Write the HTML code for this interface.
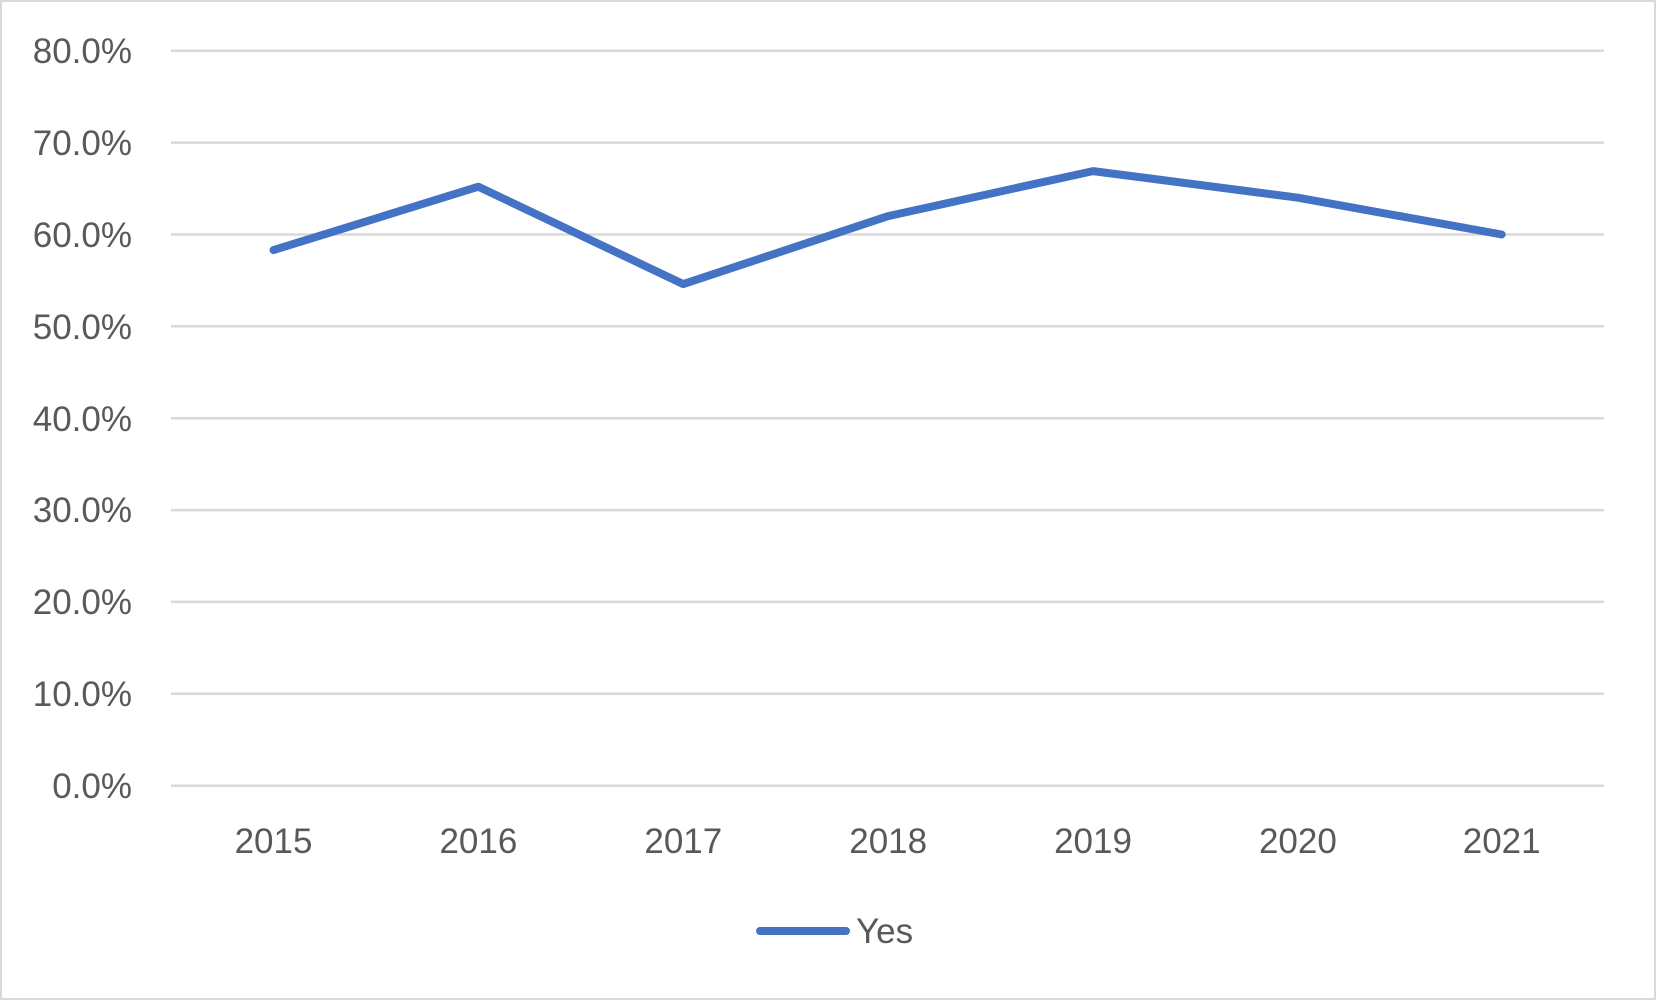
<!DOCTYPE html>
<html><head><style>
html,body{margin:0;padding:0;background:#fff;}
svg{display:block;}
text{font-family:"Liberation Sans",sans-serif;fill:#595959;font-size:35px;}
</style></head><body>
<svg width="1656" height="1000" viewBox="0 0 1656 1000">
<rect x="1" y="1" width="1654" height="998" fill="#fff" stroke="#d9d9d9" stroke-width="2"/>
<g stroke="#d9d9d9" stroke-width="2.5">
<line x1="171" x2="1604" y1="50.7" y2="50.7"/>
<line x1="171" x2="1604" y1="142.6" y2="142.6"/>
<line x1="171" x2="1604" y1="234.5" y2="234.5"/>
<line x1="171" x2="1604" y1="326.3" y2="326.3"/>
<line x1="171" x2="1604" y1="418.2" y2="418.2"/>
<line x1="171" x2="1604" y1="510.1" y2="510.1"/>
<line x1="171" x2="1604" y1="601.9" y2="601.9"/>
<line x1="171" x2="1604" y1="693.8" y2="693.8"/>
<line x1="171" x2="1604" y1="785.7" y2="785.7"/>
</g>
<g text-anchor="end">
<text x="132" y="63">80.0%</text>
<text x="132" y="155">70.0%</text>
<text x="132" y="247">60.0%</text>
<text x="132" y="339">50.0%</text>
<text x="132" y="431">40.0%</text>
<text x="132" y="522">30.0%</text>
<text x="132" y="614">20.0%</text>
<text x="132" y="706">10.0%</text>
<text x="132" y="798">0.0%</text>
</g>
<g text-anchor="middle">
<text x="273.5" y="853">2015</text>
<text x="478.4" y="853">2016</text>
<text x="683.3" y="853">2017</text>
<text x="888.2" y="853">2018</text>
<text x="1093" y="853">2019</text>
<text x="1297.9" y="853">2020</text>
<text x="1501.7" y="853">2021</text>
</g>
<polyline fill="none" stroke="#4472c4" stroke-width="8" stroke-linecap="round" stroke-linejoin="round"
points="273.5,250.1 478.4,186.7 683.3,284.1 888.2,216.1 1093,171.1 1297.9,197.7 1501.7,234.5"/>
<line x1="760" x2="846" y1="931" y2="931" stroke="#4472c4" stroke-width="8" stroke-linecap="round"/>
<text x="856" y="943">Yes</text>
</svg>
</body></html>
